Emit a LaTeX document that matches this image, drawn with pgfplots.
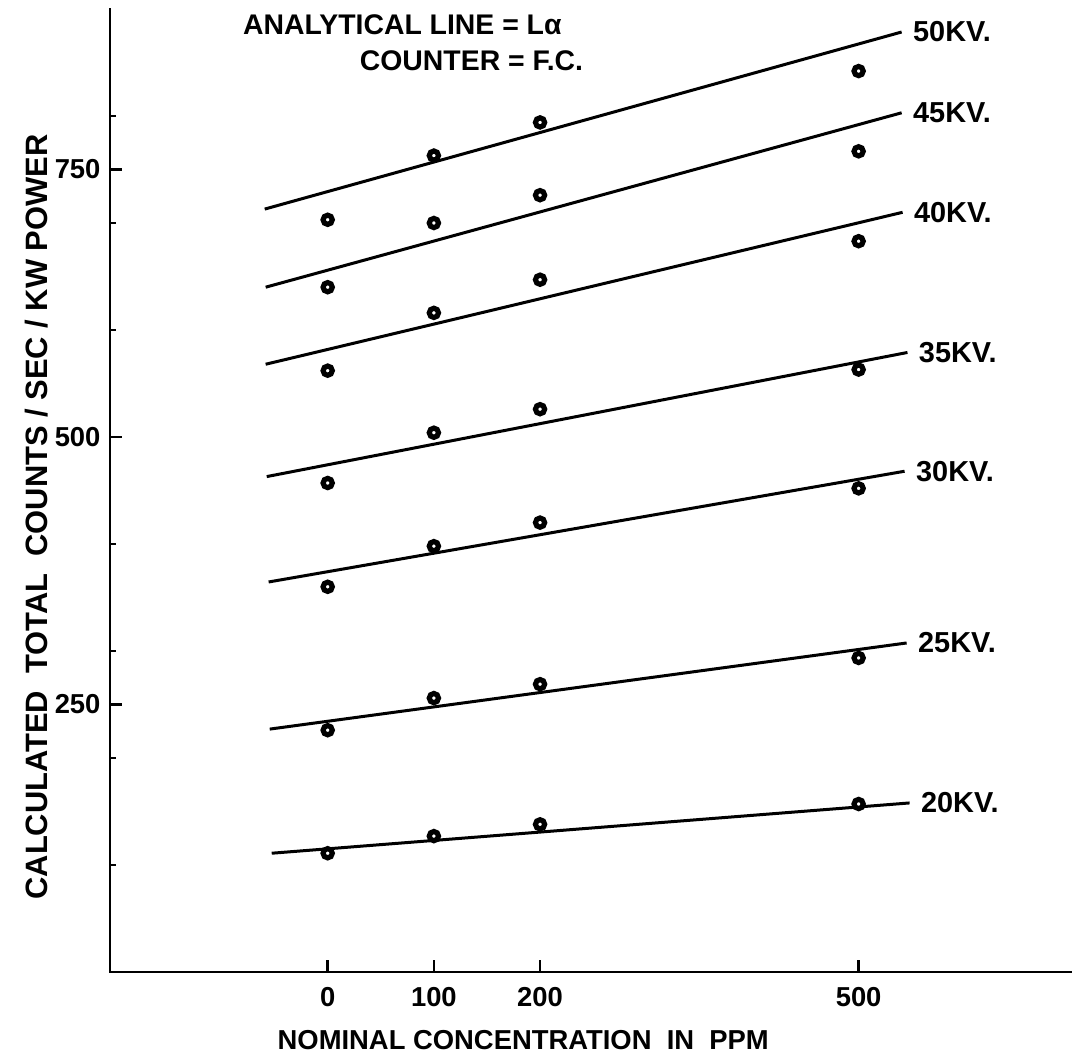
\documentclass[border=0pt]{standalone}
\usepackage{fontspec}
\setmainfont{Liberation Sans}
\usepackage{pgfplots}
\pgfplotsset{compat=1.18}
\begin{document}
\begin{tikzpicture}[
  lbl/.style={anchor=west, xshift=8bp, font=\bfseries\fontsize{29}{32}\selectfont},
  hdr/.style={anchor=west, font=\bfseries\fontsize{28.5}{32}\selectfont},
]
\path[use as bounding box] (-110bp,-86bp) rectangle (965bp,972bp);
\begin{axis}[
  at={(0,0)}, anchor=south west,
  scale only axis, width=961bp, height=963bp,
  xmin=-205, xmax=700, ymin=0, ymax=900,
  axis line style={draw=none},
  xtick pos=lower, ytick pos=left,
  xtick={0,100,200,500}, ytick={250,500,750},
  minor ytick={100,200,300,400,600,700,800},
  tick align=inside, major tick length=12bp, minor tick length=6bp,
  major tick style={line width=2.4bp, black},
  minor tick style={line width=2.4bp, black},
  tick label style={font=\bfseries\fontsize{27.5}{30}\selectfont},
  /pgf/number format/assume math mode=true,
  xticklabel style={yshift=-12bp},
  yticklabel style={xshift=-6bp},
  clip=false,
  xlabel={NOMINAL CONCENTRATION\ \ IN\ \ PPM},
  xlabel style={at={(axis description cs:0.43,-0.0706)}, anchor=center, font=\bfseries\fontsize{27.5}{32}\selectfont},
  ylabel={CALCULATED\ \ TOTAL\ \ COUNTS / SEC / KW POWER},
  ylabel style={at={(axis description cs:-0.076,0.4725)}, anchor=center, font=\bfseries\fontsize{31}{34}\selectfont},
  every axis plot/.append style={line width=3bp, black},
  pts/.style={only marks, mark=*, mark size=4.6bp, mark options={draw=black, fill=white, line width=5.2bp}},
]
\draw[line width=2.8bp, line cap=rect] (rel axis cs:0,1) -- (rel axis cs:0,0) -- (rel axis cs:1,0);
\pgfplotsinvokeforeach{250,500,750}{\draw[line width=2.4bp] (axis cs:-205,#1) -- ([xshift=12bp]axis cs:-205,#1);}
\pgfplotsinvokeforeach{0,100,200,500}{\draw[line width=2.4bp] (axis cs:#1,0) -- ([yshift=11bp]axis cs:#1,0);}
% 50 KV
\addplot[no marks] coordinates {(-59.3,713) (540.5,878.5)};
\addplot[pts] coordinates {(0,703) (100,763) (200,794) (500,842)};
\node[lbl] at (axis cs:540.5,878.5) {50KV.};
% 45 KV
\addplot[no marks] coordinates {(-58.4,640) (540.5,803)};
\addplot[pts] coordinates {(0,640) (100,700) (200,726) (500,767)};
\node[lbl] at (axis cs:540.5,803) {45KV.};
% 40 KV
\addplot[no marks] coordinates {(-58.4,568) (541.4,710)};
\addplot[pts] coordinates {(0,562) (100,616) (200,647) (500,683)};
\node[lbl] at (axis cs:541.4,710) {40KV.};
% 35 KV
\addplot[no marks] coordinates {(-57.4,463) (546,579)};
\addplot[pts] coordinates {(0,457) (100,504) (200,526) (500,563)};
\node[lbl] at (axis cs:546,579) {35KV.};
% 30 KV
\addplot[no marks] coordinates {(-55.6,364.5) (543.3,468)};
\addplot[pts] coordinates {(0,360) (100,398) (200,420) (500,452)};
\node[lbl] at (axis cs:543.3,468) {30KV.};
% 25 KV
\addplot[no marks] coordinates {(-54.6,227) (545.2,307.5)};
\addplot[pts] coordinates {(0,226) (100,256) (200,269) (500,293.5)};
\node[lbl] at (axis cs:545.2,307.5) {25KV.};
% 20 KV
\addplot[no marks] coordinates {(-52.7,111) (548,158)};
\addplot[pts] coordinates {(0,111) (100,127) (200,138) (500,157)};
\node[lbl] at (axis cs:548,158) {20KV.};
% header
\node[hdr] at (axis cs:-83,885) {ANALYTICAL LINE = Lα};
\node[hdr] at (axis cs:27,852) {COUNTER = F.C.};
\end{axis}
\end{tikzpicture}
\end{document}
